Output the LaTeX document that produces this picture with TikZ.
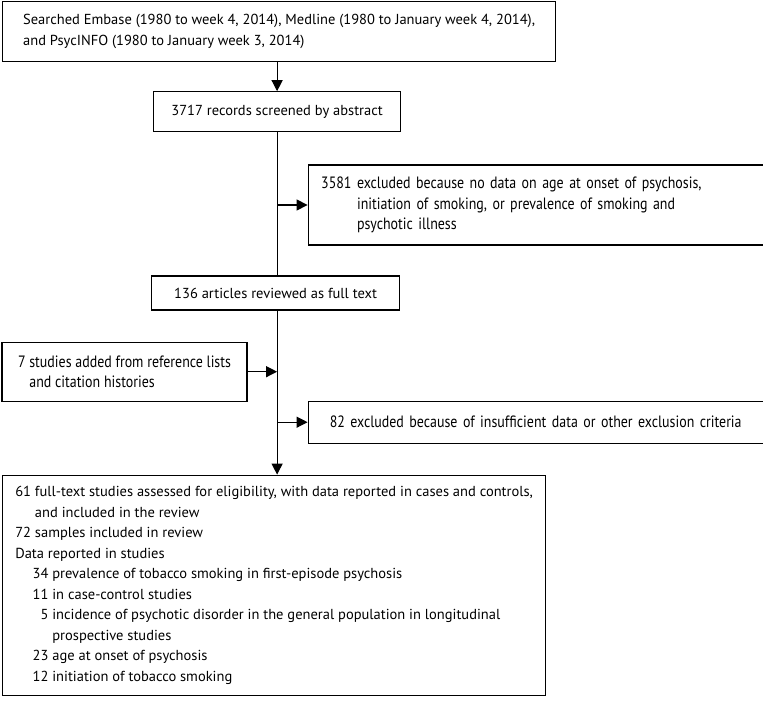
\documentclass[tikz,border=0pt]{standalone}
\usepackage{fontspec}
\setmainfont{PT Sans}
\newfontfamily\narrowfont[FakeStretch=0.85]{PT Sans}
\usepackage{tikz}
\usetikzlibrary{positioning, arrows.meta, shapes}
\newcommand{\mainsize}{\fontsize{14.5}{20.5}\selectfont}
\newcommand{\sidesize}{\fontsize{16.4}{20.5}\selectfont}
\tikzstyle{arrow} = [line width=1.2pt,-{Triangle[length=11pt,width=11pt]}]
\tikzstyle{link} = [line width=1.2pt]
\tikzstyle{wblock} = [rectangle, draw, line width=1.2pt, align=left,
inner xsep=0pt, inner ysep=0pt, font=\mainsize]
\tikzstyle{sblock} = [rectangle, draw, line width=1.2pt, align=left,
inner xsep=13pt, inner ysep=0pt, font=\narrowfont\sidesize]

\begin{document}
\begin{tikzpicture}
        \useasboundingbox (0,0) rectangle (763pt,-701pt);
        \node (Search) [wblock, anchor=north west, minimum width=553pt, minimum height=60pt] at (2pt,-1pt) {Searched Embase (1980 to week 4, 2014), Medline (1980 to January week 4, 2014),\\ and PsycINFO (1980 to January week 3, 2014)};
        \node (Screened) [wblock, below=29pt of Search, xshift=-2pt, minimum width=247pt, minimum height=40pt] {3717 records screened by abstract};
        \node (ExclAbstract) [sblock, below right=32pt and 30.5pt of Screened.south, text width=429pt, minimum height=80pt] {3581 excluded because no data on age at onset of psychosis,\\ \hphantom{3581 }initiation of smoking, or prevalence of smoking and\\ \hphantom{3581 }psychotic illness};
        \node (FullText) [wblock, below=143pt of Screened, xshift=-1.5pt, minimum width=248pt, minimum height=34pt] {136 articles reviewed as full text};
        \node (Added) [sblock, below left=31pt and 28pt of FullText.south, inner xsep=0pt, minimum width=245pt, minimum height=59pt] {7 studies added from reference lists\\ \hphantom{7 }and citation histories};
        \node (ExclFull) [sblock, below right=90pt and 32pt of FullText.south, text width=429pt, align=center, minimum height=42pt] {82 excluded because of insufficient data or other exclusion criteria};
        \node (Included) [wblock, below=164pt of FullText, xshift=-1.5pt, minimum width=543pt, minimum height=220pt] {61 full-text studies assessed for eligibility, with data reported in cases and controls,\\
        \hphantom{61 }and included in the review\\
        72 samples included in review\\
        Data reported in studies\\
        \hspace*{1.2em}34 prevalence of tobacco smoking in first-episode psychosis\\
        \hspace*{1.2em}11 in case-control studies\\
        \hspace*{1.2em}\hphantom{1}5 incidence of psychotic disorder in the general population in longitudinal\\
        \hspace*{1.2em}\hphantom{15 }prospective studies\\
        \hspace*{1.2em}23 age at onset of psychosis\\
        \hspace*{1.2em}12 initiation of tobacco smoking};

        \draw [arrow] (Search.south -| Screened) -- (Screened);
        \draw [link] (Screened) -- (Screened |- FullText.north);
        \draw [arrow] (Screened |- ExclAbstract.west) -- (ExclAbstract);
        \draw [arrow] (Screened |- FullText.south) -- (Screened |- Included.north);
        \draw [arrow] (Added) -- (Added -| Screened);
        \draw [arrow] (Screened |- ExclFull.west) -- (ExclFull);
\end{tikzpicture}
\end{document}
